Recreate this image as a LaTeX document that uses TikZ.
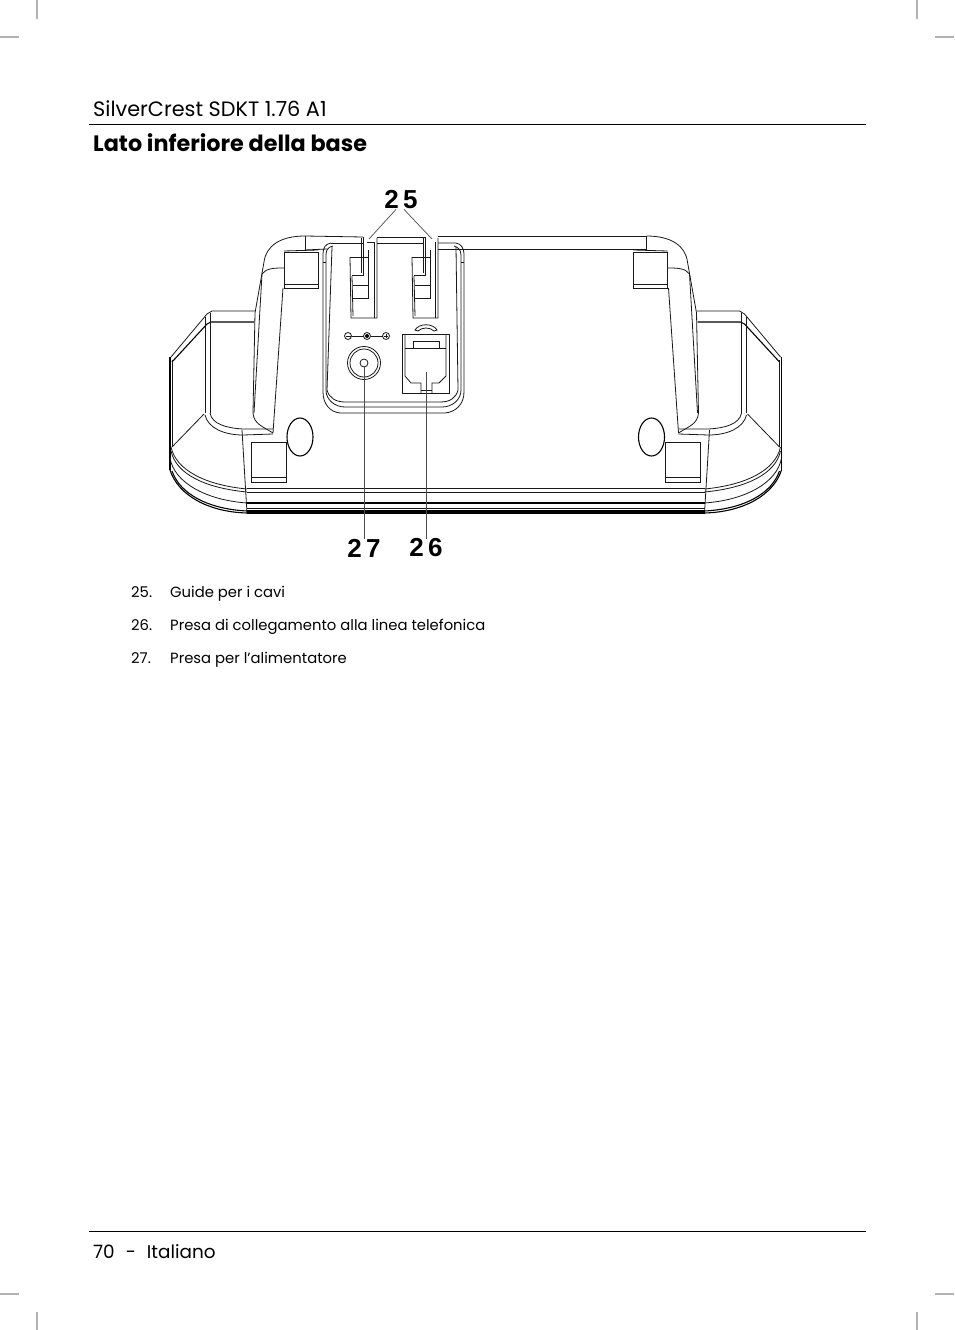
\documentclass[tikz,border=0pt]{standalone}
\usepackage{fontspec}
\setmainfont{Poppins}
\newfontfamily\labelfont{Liberation Sans}
\tikzset{
	part/.style={line width=0.8pt,black!90},
	heavy/.style={line width=1.1pt,black},
	rulerl/.style={line width=0.9pt,black},
	crop/.style={line width=1.2pt,black!30},
	leader/.style={line width=0.7pt,black!70},
	headtxt/.style={anchor=base west,inner sep=0pt,font=\fontsize{20.8}{24}\selectfont},
	itemtxt/.style={anchor=base west,inner sep=0pt,font=\fontsize{14.8}{20}\selectfont},
	numtxt/.style={inner sep=0pt,font=\labelfont\bfseries\fontsize{26}{30}\selectfont}
}
% one side of the base, left version
\newcommand{\basehalf}{
	% handle
	\draw[part] (305,236) .. controls (280,236) and (266,246) .. (264,262) -- (255,313) -- (253,413) .. controls (254,424) and (262,426) .. (273,433);
	\draw[part] (305,236) -- (305,250);
	\draw[part] (284,268) .. controls (275,268) and (266,268) .. (262,274) -- (254,413);
	\draw[part] (283,288) -- (273,433);
	% upper pad
	\draw[part] (284,252) rectangle (318,288);
	\draw[part] (284,284) -- (318,284);
	\draw[part] (284,251) -- (318,250);
	% wing
	\draw[part] (255,311) -- (212,311) -- (207,314) -- (171,357);
	\draw[heavy] (254,322) -- (211,322) -- (207,324) -- (172,362);
	\draw[heavy] (170,357) -- (170,470);
	\draw[part] (172,360) -- (172,447);
	\draw[part] (205,317) -- (205,413);
	\draw[part] (210,313) -- (210,413);
	\draw[part] (210,413) .. controls (212,424) and (226,428) .. (243,429) -- (273,429);
	\draw[part] (205,415) .. controls (208,428) and (224,435) .. (243,435) -- (273,434);
	\draw[part] (242,430) -- (247,513);
	\draw[part] (204,414) -- (172,447);
	% front curves
	\draw[part] (171,447) .. controls (176,470) and (205,485) .. (247,489);
	\draw[part] (171,451) .. controls (176,474) and (205,488) .. (247,492);
	\draw[part] (170,458) .. controls (174,482) and (205,500) .. (247,503);
	\draw[heavy] (170,470) .. controls (178,495) and (208,512) .. (247,513);
	\draw[heavy] (172,471) .. controls (180,494) and (208,509) .. (247,511);
	% lower pad and foot
	\draw[part] (251,442) rectangle (286,482);
	\draw[part] (251,477) -- (286,477);
	\draw[heavy] (300,437) ellipse (13 and 19);
}
\begin{document}
\begin{tikzpicture}[x=1pt,y=-1pt]
	\useasboundingbox (0,0) rectangle (954,1330);
	\fill[white] (0,0) rectangle (954,1330);
	% crop marks
	\draw[crop] (37,0) -- (37,19);
	\draw[crop] (917,0) -- (917,19);
	\draw[crop] (0,37) -- (19,37);
	\draw[crop] (935,37) -- (954,37);
	\draw[crop] (0,1294) -- (19,1294);
	\draw[crop] (935,1294) -- (954,1294);
	\draw[crop] (37,1312) -- (37,1330);
	\draw[crop] (917,1312) -- (917,1330);
	% header and footer
	\draw[rulerl] (89,124.5) -- (866,124.5);
	\draw[rulerl] (89,1231.5) -- (866,1231.5);
	\node[headtxt] (model) at (93,116) {SilverCrest SDKT 1.76 A1};
	\node[headtxt,font=\bfseries\fontsize{22.3}{24}\selectfont] (title) at (93,151) {Lato inferiore della base};
	\node[headtxt,font=\fontsize{18.4}{24}\selectfont] (footer) at (93,1258) {70\hspace{11pt}-\hspace{11pt}Italiano};
	% sides of the base
	\basehalf
	\begin{scope}[xshift=951.5pt,xscale=-1]
		\basehalf
	\end{scope}
	% bottom edge
	\draw[part] (247,488) -- (705,488);
	\draw[part] (247,492) -- (705,492);
	\draw[heavy] (247,503) -- (705,503);
	\draw[part] (247,508) -- (705,508);
	\draw[heavy] (247,511) -- (705,511);
	\draw[heavy] (247,513) -- (705,513);
	% top edge
	\draw[part] (305,236) -- (363,237);
	\draw[part] (377,237) -- (425,237);
	\draw[part] (438,236) -- (647,236);
	\draw[part] (305,250) -- (327,249);
	\draw[part] (438,249) -- (647,249);
	\draw[part] (367,242) -- (375,242);
	\draw[part] (377,243) -- (423,243);
	% panel
	\draw[part] (331,243) .. controls (325,244) and (323,248) .. (323,254) -- (323,392) .. controls (323,404) and (330,412) .. (340,413) -- (445,413) .. controls (456,412) and (464,404) .. (464,392) -- (464,254) .. controls (464,248) and (461,244) .. (456,243) -- (438,243);
	\draw[part] (331,243) -- (363,243);
	\draw[part] (333,246) .. controls (328,247) and (326,250) .. (326,255) -- (326,390) .. controls (326,400) and (335,407) .. (345,407) -- (442,407) .. controls (452,407) and (461,400) .. (461,390) -- (461,255) .. controls (461,250) and (458,247) .. (454,246);
	\draw[part] (332,247) -- (327,390) .. controls (329,398) and (336,402) .. (345,402) -- (440,402) .. controls (450,402) and (456,398) .. (458,390) -- (456,247);
	\draw[part] (323,262) -- (326,262);
	\draw[part] (461,262) -- (464,262);
	% left cable guide
	\draw[part] (350,257) -- (351,318) -- (377,318) -- (377,238);
	\draw[part] (352,276) -- (353,316);
	\draw[part] (374,318) -- (374,242);
	\draw[part] (350,257) -- (368,257);
	\draw[part] (363,237) -- (363,275) -- (352,275);
	\draw[part] (361,238) -- (361,273);
	\draw[part] (368,250) -- (368,298) -- (353,298);
	\draw[part] (353,285) -- (368,285);
	% right cable guide
	\draw[part] (412,257) -- (413,318) -- (438,318) -- (438,238);
	\draw[part] (414,276) -- (415,316);
	\draw[part] (435,318) -- (435,242);
	\draw[part] (412,257) -- (430,257);
	\draw[part] (425,237) -- (425,275) -- (414,275);
	\draw[part] (423,238) -- (423,273);
	\draw[part] (430,250) -- (430,298) -- (415,298);
	\draw[part] (415,285) -- (430,285);
	% power socket
	\draw[part] (348,336) circle (3.5);
	\draw[part] (367,336) circle (3.5);
	\fill (367,336) circle (2);
	\draw[part] (386,336) circle (3.5);
	\draw[part] (345.5,336) -- (350.5,336);
	\draw[part] (384,336) -- (388,336);
	\draw[part] (386,334) -- (386,338);
	\draw[part] (351.5,336) -- (363.5,336);
	\draw[part] (370.5,336) -- (382.5,336);
	\draw[part] (364,363) circle (16.5);
	\draw[part] (364,363) circle (14);
	\draw[part] (364,363) circle (4);
	% phone socket
	\draw[part] (402,334) rectangle (449,393);
	\draw[part] (405,334) -- (405,376) -- (411,383) -- (421,383) -- (421,393);
	\draw[part] (446,334) -- (446,376) -- (439,383) -- (432,383) -- (432,393);
	\draw[part] (405,348) -- (446,348);
	\draw[part] (413,348) -- (413,341) -- (439,341) -- (439,348);
	\draw[part] (421,390) -- (432,390);
	\draw[part] (415,330) .. controls (419,323) and (433,323) .. (437,330) -- (434,331) .. controls (430,327) and (422,327) .. (418,331) -- cycle;
	% labels and leaders
	\node[numtxt] (lab25) at (401,200) {2\,5};
	\node[numtxt] (lab27) at (364,548) {2\,7};
	\node[numtxt] (lab26) at (426,548) {2\,6};
	\coordinate (guideL) at (369,239);
	\coordinate (guideR) at (432,239);
	\coordinate (power) at (364,367);
	\coordinate (phone) at (426,372);
	\draw[leader] (lab25.south) ++(-5,0) -- (guideL);
	\draw[leader] (lab25.south) ++(3,0) -- (guideR);
	\draw[leader] (lab27.north) -- (power);
	\draw[leader] (lab26.north) -- (phone);
	% list
	\node[itemtxt] (num25) at (131,597) {25.};
	\node[itemtxt] (num26) at (131,630) {26.};
	\node[itemtxt] (num27) at (131,663) {27.};
	\node[itemtxt] (txt25) at (170,597) {Guide per i cavi};
	\node[itemtxt] (txt26) at (170,630) {Presa di collegamento alla linea telefonica};
	\node[itemtxt] (txt27) at (170,663) {Presa per l’alimentatore};
\end{tikzpicture}
\end{document}
